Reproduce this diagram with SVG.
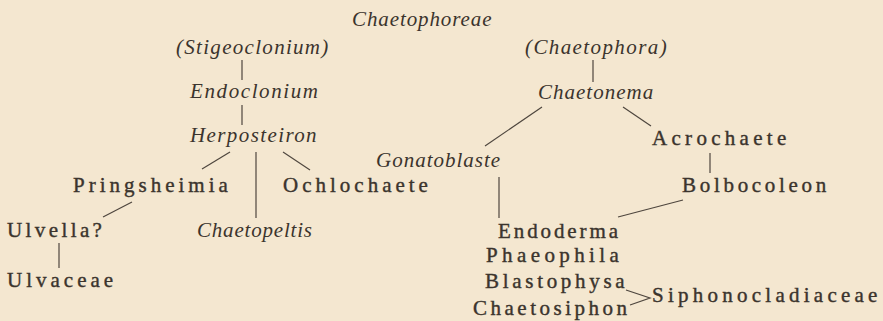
<svg xmlns="http://www.w3.org/2000/svg" width="883" height="321" viewBox="0 0 883 321">
<style>
.it{font-family:'Liberation Serif',serif;font-size:21px;font-style:italic;fill:#3b342d}
.rm{font-family:'Liberation Serif',serif;font-size:21px;fill:#3b342d;stroke:#3b342d;stroke-width:0.4}
.ln{stroke:#4e463e;stroke-width:1.2;fill:none}
</style>
<rect width="883" height="321" fill="#f4e7d0"/>
<g id="connectors" class="ln">
<line x1="242" y1="60" x2="242" y2="80"/>
<line x1="242" y1="105" x2="242" y2="125"/>
<line x1="230" y1="152" x2="202" y2="169"/>
<line x1="256" y1="152" x2="256" y2="218"/>
<line x1="283" y1="152" x2="310" y2="170"/>
<line x1="132" y1="202" x2="103" y2="217"/>
<line x1="59" y1="243" x2="59" y2="268"/>
<line x1="593" y1="60" x2="593" y2="82"/>
<line x1="542" y1="107" x2="485" y2="146"/>
<line x1="623" y1="107" x2="651" y2="126"/>
<line x1="710" y1="153" x2="710" y2="173"/>
<line x1="499" y1="177" x2="499" y2="218"/>
<line x1="683" y1="200" x2="618" y2="217"/>
<polyline points="626,290 650,298 630,305"/>
</g>
<g id="chaetophoreae"><text class="it" font-family="Liberation Serif" letter-spacing="0.9" x="352" y="26">Chaetophoreae</text></g>
<g id="stigeoclonium"><text class="it" font-family="Liberation Serif" letter-spacing="1.3" x="176" y="54">(Stigeoclonium)</text></g>
<g id="endoclonium"><text class="it" font-family="Liberation Serif" letter-spacing="1.6" x="190" y="98">Endoclonium</text></g>
<g id="herposteiron"><text class="it" font-family="Liberation Serif" letter-spacing="1.4" x="190" y="142">Herposteiron</text></g>
<g id="chaetophora"><text class="it" font-family="Liberation Serif" letter-spacing="1.4" x="525" y="54">(Chaetophora)</text></g>
<g id="chaetonema"><text class="it" font-family="Liberation Serif" letter-spacing="1.0" x="538" y="99">Chaetonema</text></g>
<g id="gonatoblaste"><text class="it" font-family="Liberation Serif" letter-spacing="1.0" x="376" y="167">Gonatoblaste</text></g>
<g id="chaetopeltis"><text class="it" font-family="Liberation Serif" letter-spacing="0.8" x="197" y="237">Chaetopeltis</text></g>
<g id="pringsheimia"><text class="rm" font-family="Liberation Serif" letter-spacing="4.0" x="73" y="192">Pringsheimia</text></g>
<g id="ochlochaete"><text class="rm" font-family="Liberation Serif" letter-spacing="4.0" x="283" y="192">Ochlochaete</text></g>
<g id="ulvella"><text class="rm" font-family="Liberation Serif" letter-spacing="3.4" x="7" y="237">Ulvella?</text></g>
<g id="ulvaceae"><text class="rm" font-family="Liberation Serif" letter-spacing="4.0" x="7" y="287">Ulvaceae</text></g>
<g id="acrochaete"><text class="rm" font-family="Liberation Serif" letter-spacing="4.3" x="652" y="145">Acrochaete</text></g>
<g id="bolbocoleon"><text class="rm" font-family="Liberation Serif" letter-spacing="3.7" x="682" y="192">Bolbocoleon</text></g>
<g id="endoderma"><text class="rm" font-family="Liberation Serif" letter-spacing="2.9" x="498" y="238">Endoderma</text></g>
<g id="phaeophila"><text class="rm" font-family="Liberation Serif" letter-spacing="4.4" x="486" y="262">Phaeophila</text></g>
<g id="blastophysa"><text class="rm" font-family="Liberation Serif" letter-spacing="3.7" x="485" y="288">Blastophysa</text></g>
<g id="chaetosiphon"><text class="rm" font-family="Liberation Serif" letter-spacing="3.5" x="473" y="315">Chaetosiphon</text></g>
<g id="siphonocladiaceae"><text class="rm" font-family="Liberation Serif" letter-spacing="4.25" x="652" y="302">Siphonocladiaceae</text></g>
</svg>
